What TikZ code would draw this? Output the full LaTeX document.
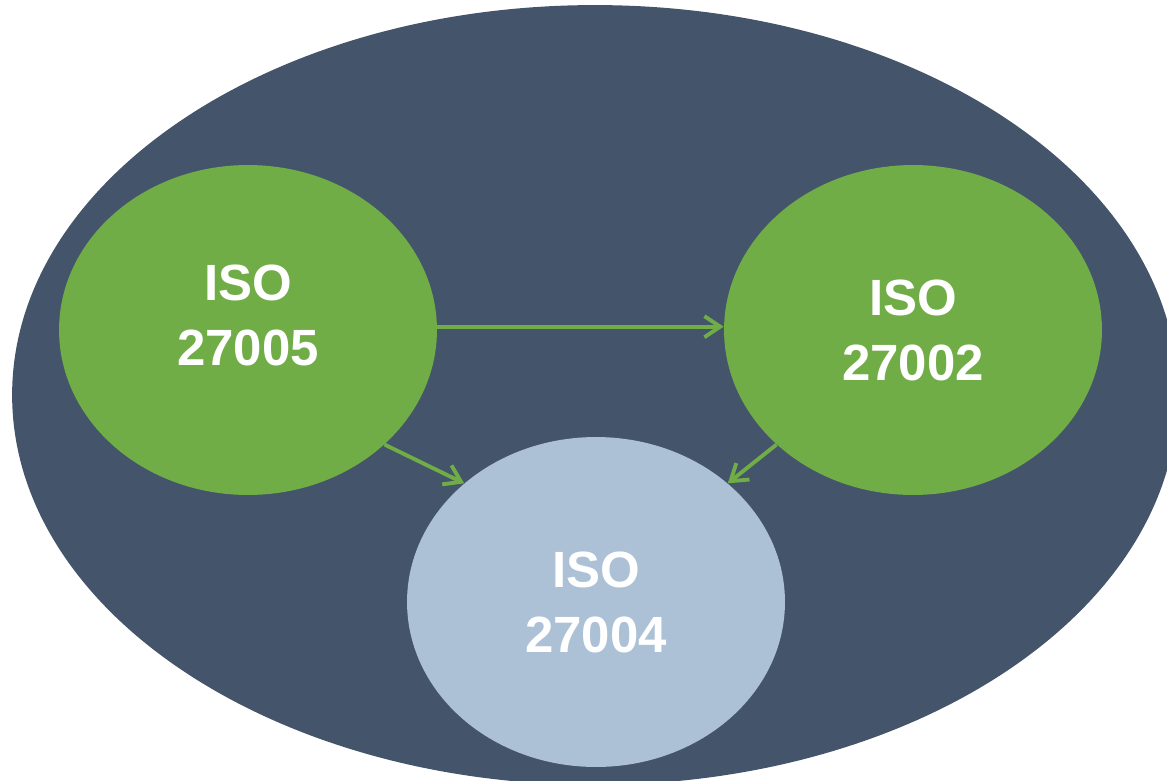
\documentclass[tikz,border=0pt]{standalone}
\usepackage{fontspec}
\setmainfont{Liberation Sans}
\usetikzlibrary{shapes.geometric,arrows.meta}
\definecolor{slate}{HTML}{44546A}
\definecolor{isogreen}{HTML}{70AD47}
\definecolor{isoblue}{HTML}{ADC1D6}

\begin{document}
\begin{tikzpicture}[x=0.02cm, y=-0.02cm,
        std/.style={ellipse, inner sep=0pt, minimum width=7.56cm, minimum height=6.6cm, text=white, align=center, font=\fontsize{29}{37}\selectfont\bfseries},
        link/.style={draw=isogreen, line width=2.2pt, -{Straight Barb[length=9pt, width=12pt]}}]
        \clip (0,0) rectangle (1167,781);
        \node (bg) at (595,395) [ellipse, fill=slate, minimum width=23.32cm, minimum height=15.6cm] {};

        \node (iso5) at (248,330) [std, fill=isogreen, text depth=0.6cm] {ISO\\27005};
        \node (iso2) at (913,330) [std, fill=isogreen] {ISO\\27002};
        \node (iso4) at (596,602) [std, fill=isoblue] {ISO\\27004};

        \draw[link] (iso5.1.5) -- (iso5.1.5 -| iso2.west);
        \draw[link] (iso5.-40) -- (iso4.138);
        \draw[link] (iso2.-140) -- (iso4.42);
        \end{tikzpicture}
\end{document}
